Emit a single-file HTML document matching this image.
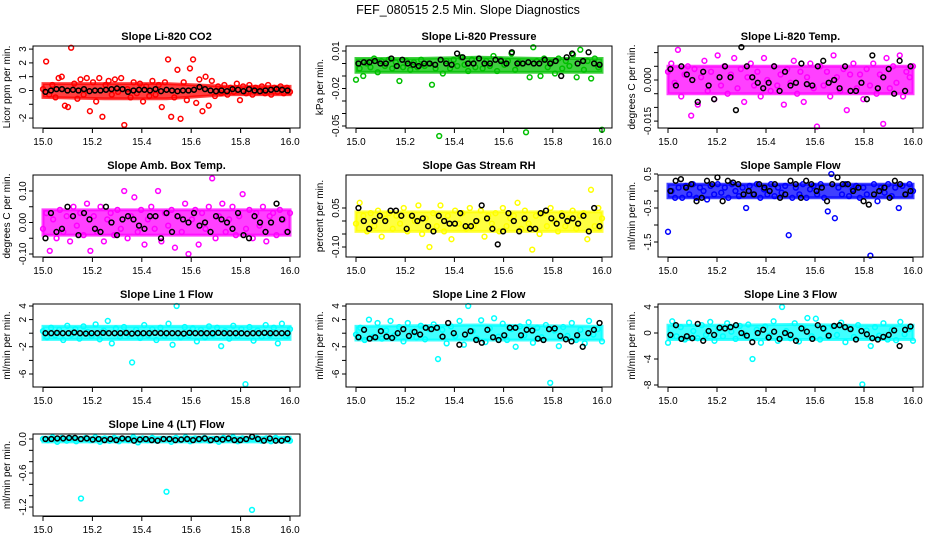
<!DOCTYPE html>
<html><head><meta charset="utf-8"><style>
body{margin:0;background:#fff}
svg{display:block;font-family:"Liberation Sans",sans-serif}
</style></head><body>
<svg id="c" width="936" height="540" viewBox="0 0 936 540">
<text x="468" y="14" text-anchor="middle" font-size="12.5">FEF_080515  2.5 Min. Slope Diagnostics</text>
</svg>
<script>
// ---- data ----
const xTickLabels = ["15.0","15.2","15.4","15.6","15.8","16.0"];
const xTicks = [15.0,15.2,15.4,15.6,15.8,16.0];
const bandX = [15.0,15.25,15.5,15.75,16.0];
const panelTitles = ["Slope Li-820 CO2","Slope Li-820 Pressure","Slope Li-820 Temp.","Slope Amb. Box Temp.","Slope Gas Stream RH","Slope Sample Flow","Slope Line 1 Flow","Slope Line 2 Flow","Slope Line 3 Flow","Slope Line 4 (LT) Flow"];
const yTitles = ["Licor ppm per min.","kPa per min.","degrees C per min.","degrees C per min.","percent per min.","ml/min per min.","ml/min per min.","ml/min per min.","ml/min per min.","ml/min per min."];
const seriesColors = ["#ff0000","#00c000","#ff00ff","#ff00ff","#ffff00","#0000ff","#00ffff","#00ffff","#00ffff","#00ffff"];

// dense-cloud envelopes (upper / lower edge of the dense band) per panel
const bandHi = [[0.5,0.5,0.5,0.3,0.3],[0.004,0.004,0.005,0.004,0.004],[0.005,0.005,0.005,0.005,0.005],[0.04,0.04,0.04,0.04,0.04],[0.035,0.035,0.035,0.035,0.035],[0.2,0.2,0.2,0.2,0.2],[1.0,1.0,1.0,1.0,1.0],[1.0,1.1,1.2,1.1,1.0],[1.2,1.2,1.3,1.2,1.2],[0.03,0.03,0.03,0.03,0.03]];
const bandLo = [[-0.5,-0.6,-0.6,-0.3,-0.3],[-0.007,-0.007,-0.007,-0.007,-0.007],[-0.005,-0.005,-0.005,-0.005,-0.005],[-0.04,-0.04,-0.04,-0.04,-0.04],[-0.04,-0.04,-0.04,-0.04,-0.04],[-0.2,-0.2,-0.2,-0.2,-0.2],[-0.9,-0.9,-0.9,-0.9,-0.9],[-1.0,-1.0,-1.0,-1.0,-1.0],[-1.0,-1.0,-1.0,-1.0,-1.0],[-0.05,-0.05,-0.05,-0.05,-0.05]];

const co2 = [0.1,2.1,-0.3,0.4,-0.5,0.9,1.0,-1.1,-1.2,3.1,0.5,-0.6,0.8,-0.3,0.9,-1.5,0.6,-0.8,0.9,-1.9,0.4,0.7,-0.3,0.8,-0.1,0.9,-2.5,0.1,-0.5,0.6,-0.2,0.5,-0.8,0.3,-0.4,0.7,-0.3,0.4,-1.2,0.6,2.25,-1.9,-0.5,1.5,-2.05,0.6,-0.7,1.6,2.25,-0.9,0.8,-1.5,1.0,-1.1,0.7,-0.4,0.3,-0.2,0.4,-0.3,0.2,-0.1,0.5,-0.7,0.3,-0.2,0.4,-0.3,0.2,-0.1,0.3,-0.2,0.4,-0.3,0.2,-0.1,0.3,-0.2,0.2,-0.1];
const co2Black = [-0.1,0.0,0.1,0.1,0.0,0.05,0.0,0.1,-0.05,0.0,0.0,0.05,0.1,0.15,0.1,-0.1,0.0,0.05,0.05,0.0,0.1,-0.05,0.05,0.0,-0.05,0.0,0.0,0.05,0.25,0.1,0.0,-0.05,0.0,-0.05,0.1,0.05,-0.05,0.1,0.0,-0.05,0.0,0.05,0.1,0.05,0.0];
const pres = [-0.013,-0.004,-0.01,0.0,-0.003,0.004,-0.007,0.002,-0.002,0.003,-0.004,0.001,-0.014,-0.003,0.002,-0.005,0.001,-0.003,0.003,-0.002,0.0,-0.017,-0.004,-0.058,-0.008,0.002,-0.004,0.003,-0.002,0.005,-0.001,-0.006,0.003,-0.003,0.004,-0.004,0.002,-0.002,0.006,-0.006,0.003,-0.001,0.002,0.008,-0.005,0.001,0.0,-0.055,-0.011,0.013,0.002,-0.01,0.004,-0.003,0.001,-0.008,0.004,-0.004,0.002,-0.002,0.007,-0.011,0.011,-0.005,0.002,-0.012,0.004,-0.003,-0.053];
const presBlack = [0.0,0.001,0.001,0.002,0.0,0.0,0.004,-0.002,0.003,0.0,-0.001,-0.002,0.0,0.0,-0.001,0.003,0.0,-0.001,0.008,0.005,0.0,0.0,0.004,0.0,0.0,0.003,0.002,0.0,0.009,0.0,0.0,0.001,0.0,0.0,0.003,0.0,0.002,-0.01,0.005,0.008,0.0,0.002,0.009,0.0,-0.001];
const tempC = [0.003,0.006,-0.001,0.011,-0.006,0.002,0.005,-0.013,0.004,-0.009,0.001,0.007,-0.004,0.003,-0.007,0.009,-0.002,0.005,-0.005,0.002,0.008,-0.003,0.004,-0.008,0.001,0.006,-0.002,0.003,-0.006,0.008,0.0,-0.004,0.005,-0.002,0.002,-0.009,0.004,-0.001,0.007,-0.005,0.003,-0.008,0.001,0.006,-0.003,-0.017,0.005,-0.002,0.003,-0.006,0.009,0.001,-0.004,0.004,-0.011,0.002,0.006,-0.003,0.002,-0.007,0.004,-0.002,0.006,-0.005,0.002,-0.016,0.008,-0.003,0.005,-0.001,0.009,-0.006,0.003,0.001,0.005];
const tempBlack = [0.004,-0.002,0.005,0.002,0.0,-0.008,0.003,-0.002,-0.007,0.001,0.005,0.001,-0.011,0.012,0.005,0.001,-0.001,-0.003,-0.001,0.005,-0.004,0.003,-0.002,-0.001,0.006,-0.0015,-0.002,0.005,0.007,-0.001,0.0,-0.003,0.005,-0.004,-0.004,-0.001,-0.007,0.009,-0.003,0.001,0.004,-0.005,0.007,-0.004,0.005];
const amb = [-0.02,0.03,-0.09,0.01,-0.05,0.04,-0.03,0.02,-0.06,0.05,-0.01,0.03,-0.04,0.06,-0.09,0.02,-0.03,0.05,-0.06,0.01,0.03,-0.04,0.04,-0.02,0.1,-0.05,0.02,0.08,-0.03,0.04,-0.07,0.01,0.05,-0.02,0.1,-0.06,0.03,-0.01,0.04,-0.08,0.02,-0.03,0.06,-0.10,0.01,0.04,-0.07,0.03,-0.02,0.05,0.14,-0.05,0.02,0.06,-0.03,0.01,0.05,-0.04,0.02,0.09,-0.02,0.04,-0.05,0.03,-0.01,0.05,-0.06,0.02,0.03,-0.04,0.04,0.01,-0.03,0.03];
const ambBlack = [-0.05,0.03,-0.03,-0.02,0.05,0.02,-0.04,0.03,0.01,-0.02,-0.03,0.05,0.0,-0.04,0.01,0.02,0.01,-0.01,-0.02,0.02,0.02,-0.05,0.03,-0.03,0.02,0.01,0.0,0.03,-0.01,0.0,-0.03,0.02,0.01,0.0,-0.02,0.03,-0.04,-0.05,0.02,0.0,-0.03,0.0,0.06,0.01,-0.03];
const rh = [-0.01,0.07,0.02,-0.04,0.03,-0.02,0.04,-0.06,0.01,0.03,-0.03,0.02,-0.01,0.05,-0.04,0.02,0.0,0.06,-0.05,0.01,-0.1,0.03,-0.02,0.06,-0.04,0.02,-0.07,0.04,-0.01,0.03,-0.03,0.05,-0.02,0.0,0.04,-0.06,0.02,-0.01,0.03,-0.04,0.05,-0.02,0.01,0.02,0.07,-0.03,0.04,-0.01,-0.11,0.02,-0.05,0.03,-0.02,0.05,0.0,-0.04,0.03,-0.02,0.01,0.04,-0.03,0.02,0.03,-0.07,0.12,-0.02,0.05,0.01];
const rhBlack = [0.05,0.0,-0.03,0.0,0.02,0.0,0.04,0.04,0.02,-0.03,0.02,0.0,0.01,-0.02,-0.04,0.02,0.0,-0.01,-0.01,0.03,-0.02,-0.02,0.0,0.06,0.01,-0.03,-0.09,-0.04,0.03,0.0,-0.04,0.01,-0.03,-0.03,0.03,0.04,0.01,-0.01,0.02,0.0,0.01,-0.01,0.02,-0.04,0.05,-0.02];
const flow = [-1.2,0.0,-0.2,0.1,-0.2,0.15,-0.1,0.2,-0.2,0.1,0.0,-0.25,0.15,-0.1,0.2,-0.05,0.1,-0.2,0.2,0.0,-0.15,0.1,-0.5,0.15,-0.1,0.2,-0.2,0.05,-0.1,0.2,-0.15,0.1,-0.05,0.15,-1.3,-0.2,0.1,-0.1,0.2,-0.2,0.05,0.15,-0.1,0.2,-0.2,-0.6,0.5,-0.8,0.1,-0.1,0.2,-0.15,0.05,0.15,-0.2,0.1,-0.1,-1.9,0.2,-0.3,0.1,-0.05,0.2,-0.15,0.1,-0.5,0.15,-0.1,0.2,0.0];
const flowBlack = [0.0,0.3,0.35,0.1,0.2,-0.3,-0.2,0.3,0.2,0.4,-0.3,0.3,0.25,0.2,-0.1,0.0,-0.1,0.2,0.1,0.0,0.2,-0.2,-0.1,0.3,0.2,-0.2,0.3,0.2,0.0,0.1,-0.3,0.2,0.4,0.2,0.2,0.0,0.1,-0.3,-0.4,-0.1,0.0,0.1,-0.2,0.3,0.2,-0.1,0.0];
const line1 = [0.3,-0.6,0.8,-0.3,0.5,-1.0,1.1,-0.2,0.6,-0.8,1.0,0.2,-0.4,1.3,-0.9,0.4,1.8,-1.5,0.7,-0.5,0.9,-0.2,-4.3,0.5,-0.7,1.2,-0.3,0.6,-1.0,0.8,-0.4,1.4,-1.7,4.0,-0.6,0.9,-0.3,0.7,-1.2,0.5,-0.6,1.0,-0.2,0.8,-1.9,0.3,-0.8,1.1,-0.4,0.6,-7.5,0.9,-1.1,0.4,-0.5,1.2,-0.3,0.8,-1.5,1.4,-0.4,0.6];
const line1Black = [0.0,0.0,0.05,0.0,0.0,0.1,0.0,-0.05,0.0,0.0,0.05,0.0,0.0,0.0,0.05,-0.05,0.0,0.0,0.0,0.05,0.0,0.0,0.0,0.0,-0.05,0.05,0.0,0.0,0.0,0.0,0.05,0.0,0.0,0.0,0.0,-0.05,0.0,0.0,0.05,0.0,0.0,0.0,0.0];
const line2 = [-0.2,0.8,-1.0,2.0,-0.5,1.5,-0.8,0.4,1.8,-0.3,0.9,-1.2,1.5,0.2,-0.6,1.1,-0.9,0.6,1.3,-3.8,0.5,-1.5,1.0,-0.4,1.8,-1.7,4.0,0.3,-0.8,1.9,-1.3,0.7,2.2,-0.5,1.4,-1.0,0.6,-2.0,1.0,-0.3,1.6,-1.4,0.8,-0.6,1.2,-7.3,0.4,-1.9,0.9,-0.4,1.5,-1.0,0.5,-1.5,1.8,-0.2,0.6,-1.2];
const line2Black = [-0.6,0.5,-0.8,-0.6,0.3,-0.5,-0.7,0.0,0.6,-0.4,0.2,-0.2,0.8,0.6,0.8,-0.5,1.5,0.0,-1.7,-0.2,0.3,-1.0,-1.4,0.5,-0.6,-1.0,-0.3,0.8,0.8,-0.3,0.5,0.4,-0.8,-1.0,0.6,0.7,-0.4,-0.9,-1.2,-0.3,-2.0,0.0,0.5,1.5];
const line3 = [-1.5,1.8,-0.5,0.9,-1.0,1.6,0.3,-0.8,1.2,-0.3,1.7,-1.2,0.6,-0.5,1.5,0.2,-0.9,1.1,-0.2,1.3,-4.0,0.5,-1.5,1.0,-0.4,1.8,-1.2,4.0,0.3,-0.8,1.5,-1.3,0.7,2.3,-0.5,2.2,-1.0,0.6,-0.6,1.0,-0.3,1.6,-1.4,0.8,-0.6,1.2,-7.9,0.4,-2.0,0.9,-0.4,1.5,-1.0,0.5,-1.1,1.7,-0.2,0.6,-1.2];
const line3Black = [-0.3,1.2,-0.9,-0.5,-0.8,1.4,-1.2,0.3,-0.3,0.8,0.7,0.9,1.2,0.0,-0.4,-1.4,0.0,0.5,-0.7,0.2,-0.9,0.0,-0.3,-1.2,0.7,0.2,-0.9,1.2,0.7,-0.4,1.1,1.2,0.9,0.6,-1.0,0.3,-0.2,-0.8,-1.0,-0.6,-0.3,0.4,-2.0,0.5,1.0];
const line4 = [0.0,-0.02,0.03,-0.05,0.02,-0.03,0.01,-0.04,-1.05,0.02,-0.02,0.03,-0.05,0.01,-0.03,0.02,-0.04,0.0,-0.02,0.03,-0.06,0.01,-0.02,0.02,-0.03,0.0,-0.93,-0.05,0.02,-0.02,0.03,-0.04,0.01,-0.02,0.02,-0.03,0.0,-0.05,0.02,-0.01,0.03,-0.04,0.01,-0.02,-1.25,0.02,-0.03,0.01,-0.04,0.02,-0.02,0.0,-0.03];
const line4Black = [0.0,0.0,0.01,0.01,0.02,0.02,0.0,0.01,-0.01,0.0,-0.02,0.0,-0.02,0.01,0.0,-0.03,-0.01,0.0,-0.02,-0.03,0.0,0.0,-0.02,-0.01,0.0,-0.02,0.0,0.01,-0.02,0.0,-0.01,0.01,-0.02,-0.02,0.0,0.04,0.0,-0.03,0.01,-0.03,-0.03,0.0];

const colorSeries = [co2,pres,tempC,amb,rh,flow,line1,line2,line3,line4];
const blackSeries = [co2Black,presBlack,tempBlack,ambBlack,rhBlack,flowBlack,line1Black,line2Black,line3Black,line4Black];
const yTickValues = [[-2,-1,0,1,2,3],[0.01,0,-0.01,-0.02,-0.03,-0.04,-0.05],[0.01,0.005,0,-0.005,-0.01,-0.015],[0.1,0.05,0,-0.05,-0.1],[0.05,0,-0.05,-0.1],[0.5,0,-0.5,-1,-1.5],[4,2,0,-2,-4,-6],[4,2,0,-2,-4,-6],[4,0,-4,-8],[0,-0.2,-0.4,-0.6,-0.8,-1.0,-1.2]];
const yTickLabels = [["-2","","0","1","2","3"],["0.01","","","-0.02","","","-0.05"],["","","0.000","","","-0.015"],["0.10","","0.00","","-0.10"],["0.05","","","-0.10"],["0.5","","-0.5","","-1.5"],["4","2","","-2","","-6"],["4","2","","-2","","-6"],["4","0","-4","-8"],["0.0","","","-0.6","","","-1.2"]];

// ---- layout (pixels) ----
const boxes = [[33,46,300,128],[346,46,612,128],[658,46,923,128],[33,175,300,257],[346,175,612,257],[658,175,923,257],[33,304,300,387],[346,304,612,387],[658,304,923,387],[33,434,300,516]];
const yZero = [90.5,63.5,80,222.5,221,191,333.2,333.2,333,439];
const yPerUnit = [13.8,1250,2740,315,260,34,6.8,6.8,6.5,56.7];

const svg = document.getElementById('c');
const NS = 'http://www.w3.org/2000/svg';
function mk(tag, attrs, parent){const e=document.createElementNS(NS,tag);for(const k in attrs)e.setAttribute(k,attrs[k]);(parent||svg).appendChild(e);return e;}

for(let p=0;p<10;p++){
  const [x1,y1,x2,y2]=boxes[p];
  const xs=v=>x1+10+(v-15)*(x2-x1-20);
  const ys=v=>yZero[p]-v*yPerUnit[p];
  const g=mk('g',{});
  
  
  const t=mk('text',{x:(x1+x2)/2,y:y1-6,'text-anchor':'middle','font-size':11,'font-weight':'bold'},g);
  t.textContent=panelTitles[p];
  
  
  const yt=mk('text',{x:0,y:0,'text-anchor':'middle','font-size':10,transform:`translate(${x1-23},${(y1+y2)/2}) rotate(-90)`},g);
  yt.textContent=yTitles[p];
  
  
  // dense band
  let pts=bandX.map((x,i)=>xs(x)+','+ys(bandHi[p][i]));
  pts=pts.concat(bandX.map((x,i)=>xs(x)+','+ys(bandLo[p][i])).reverse());
  const band=mk('polygon',{points:pts.join(' '),fill:seriesColors[p],'fill-opacity':0.75,stroke:seriesColors[p],'stroke-width':3,'stroke-opacity':0.75},g);
  
  
  // points
  const cs=colorSeries[p];
  cs.forEach((v,i)=>{
    const c=mk('circle',{cx:xs(15+i/(cs.length-1)),cy:ys(v),r:2.4,fill:'none',stroke:seriesColors[p],'stroke-width':1.5},g);
    
    
  });
  const bs=blackSeries[p];
  bs.forEach((v,i)=>{
    const c=mk('circle',{cx:xs(15+0.01+i*0.98/(bs.length-1)),cy:ys(v),r:2.4,fill:'none',stroke:'#000','stroke-width':1.5},g);
    
    
  });
  const box=mk('rect',{x:x1,y:y1,width:x2-x1,height:y2-y1,fill:'none',stroke:'#000','stroke-width':1},g);
  
  
  // x axis
  mk('line',{x1:xs(15),x2:xs(16),y1:y2+0.5,y2:y2+0.5,stroke:'#000'},g);
  xTicks.forEach((v,i)=>{
    mk('line',{x1:xs(v),x2:xs(v),y1:y2,y2:y2+5,stroke:'#000'},g);
    const l=mk('text',{x:xs(v),y:y2+17,'text-anchor':'middle','font-size':10},g);
    l.textContent=xTickLabels[i];
    
    
  });
  // y axis
  yTickValues[p].forEach((v,i)=>{
    const y=ys(v);
    mk('line',{x1:x1-4,x2:x1,y1:y,y2:y,stroke:'#000'},g);
    if(yTickLabels[p][i]){
      const l=mk('text',{x:0,y:0,'text-anchor':'middle','font-size':10,transform:`translate(${x1-7},${y}) rotate(-90)`},g);
      l.textContent=yTickLabels[p][i];
      
      
    }
  });
}
</script>
</body></html>
